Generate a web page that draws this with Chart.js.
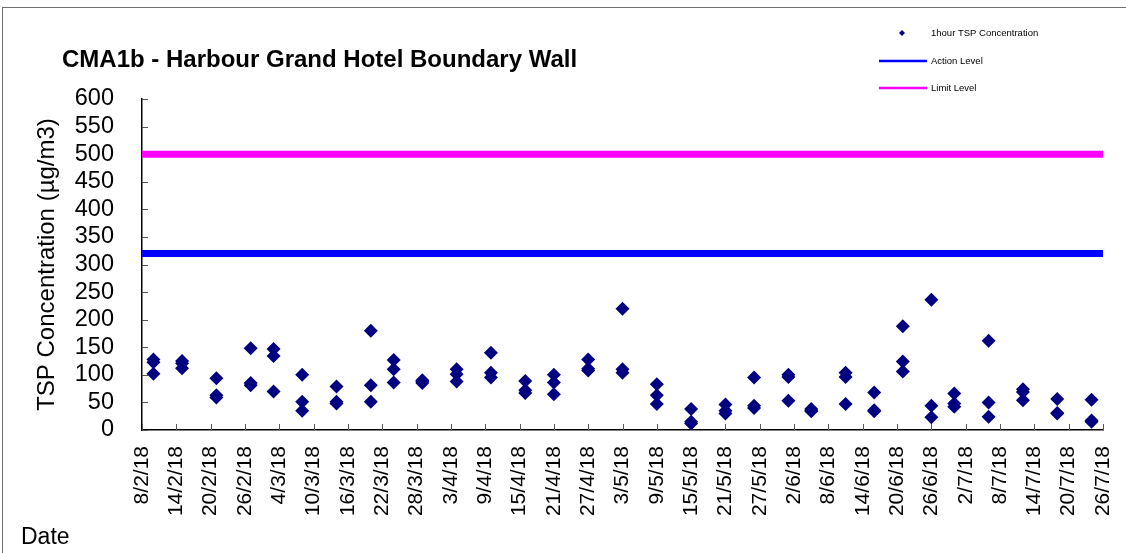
<!DOCTYPE html>
<html>
<head>
<meta charset="utf-8">
<title>CMA1b - Harbour Grand Hotel Boundary Wall</title>
<script src="https://cdn.jsdelivr.net/npm/chart.js"></script>
<style>
  html, body { margin: 0; padding: 0; background: #fff; }
  #wrap { position: relative; width: 1126px; height: 553px; }
</style>
</head>
<body>
<div id="wrap"><canvas id="tspChart" width="1126" height="553"></canvas></div>
<script>
// --- data ---
const sampleDates = ['10/2/18', '15/2/18', '21/2/18', '27/2/18', '3/3/18', '8/3/18', '14/3/18', '20/3/18',
    '24/3/18', '29/3/18', '4/4/18', '10/4/18', '16/4/18', '21/4/18', '27/4/18', '3/5/18', '9/5/18',
    '15/5/18', '21/5/18', '26/5/18', '1/6/18', '5/6/18', '11/6/18', '16/6/18', '21/6/18', '26/6/18',
    '30/6/18', '6/7/18', '12/7/18', '18/7/18', '24/7/18'];
// three 1-hour samples per monitoring day
const tspReading1 = [128, 125, 94, 148, 147, 100, 79, 180, 127, 90, 110, 140, 89, 100, 128, 220, 83,
    38, 46, 95, 100, 38, 104, 68, 188, 236, 66, 162, 74, 56, 55];
const tspReading2 = [123, 121, 63, 85, 134, 51, 51, 81, 110, 88, 101, 104, 72, 86, 111, 110, 63,
    15, 35, 44, 96, 36, 96, 36, 124, 44, 48, 50, 69, 31, 17];
const tspReading3 = [102, 112, 59, 81, 70, 35, 48, 51, 86, 85, 88, 95, 67, 65, 108, 104, 47,
    12, 30, 40, 53, 34, 47, 34, 106, 23, 42, 24, 54, 30, 15];

const actionLevel = 320;
const limitLevel = 500;

const axisStart = '8/2/18';
const axisEnd = '26/7/18';
const tickStepDays = 6;
const yTicks = { min: 0, max: 600, step: 50 };

const FONT = 'Liberation Sans, Arial, sans-serif';

// d/m/yy -> days since axis start
function toUtc(s) {
    const p = s.split('/').map(Number);
    return Date.UTC(2000 + p[2], p[1] - 1, p[0]);
}
const dayMs = 86400000;
function dayIndex(s) { return Math.round((toUtc(s) - toUtc(axisStart)) / dayMs); }
function dayLabel(d) {
    const dt = new Date(toUtc(axisStart) + d * dayMs);
    return dt.getUTCDate() + '/' + (dt.getUTCMonth() + 1) + '/' + String(dt.getUTCFullYear()).slice(2);
}
const lastDay = dayIndex(axisEnd);

const tspPoints = [];
sampleDates.forEach((d, i) => {
    [tspReading1[i], tspReading2[i], tspReading3[i]].forEach(v => {
        tspPoints.push({ x: dayIndex(d), y: v });
    });
});

// inward tick marks, titles, legend and outer frame
const decorPlugin = {
    id: 'decor',
    beforeDraw(chart) {
        const ctx = chart.ctx;
        ctx.save();
        ctx.strokeStyle = '#6e6e6e';
        ctx.lineWidth = 1;
        ctx.strokeRect(2.5, 7.5, 1200, 700);
        ctx.restore();
    },
    beforeDatasetsDraw(chart) {
        const { ctx, chartArea, scales } = chart;
        ctx.save();
        ctx.strokeStyle = '#555';
        ctx.lineWidth = 1;
        ctx.beginPath();
        scales.y.ticks.forEach(t => {
            const y = Math.round(scales.y.getPixelForValue(t.value)) + 0.5;
            ctx.moveTo(chartArea.left, y);
            ctx.lineTo(chartArea.left + 6, y);
        });
        scales.x.ticks.forEach(t => {
            const x = Math.round(scales.x.getPixelForValue(t.value)) + 0.5;
            ctx.moveTo(x, chartArea.bottom);
            ctx.lineTo(x, chartArea.bottom - 6);
        });
        ctx.stroke();
        ctx.restore();
    },
    afterDraw(chart) {
        const ctx = chart.ctx;
        ctx.save();
        ctx.fillStyle = '#000';
        ctx.textBaseline = 'middle';
        ctx.textAlign = 'left';

        ctx.font = 'bold 24px ' + FONT;
        ctx.fillText('CMA1b - Harbour Grand Hotel Boundary Wall', 62, 60);

        ctx.font = '23px ' + FONT;
        ctx.fillText('Date', 21, 538);

        // legend
        ctx.font = '9.5px ' + FONT;
        ctx.fillText('1hour TSP Concentration', 931, 33);
        ctx.fillText('Action Level', 931, 61);
        ctx.fillText('Limit Level', 931, 88);

        ctx.fillStyle = '#000080';
        ctx.beginPath();
        ctx.moveTo(902, 30); ctx.lineTo(905, 33); ctx.lineTo(902, 36); ctx.lineTo(899, 33);
        ctx.closePath();
        ctx.fill();

        ctx.lineWidth = 2.5;
        ctx.strokeStyle = '#0000ff';
        ctx.beginPath(); ctx.moveTo(879, 61); ctx.lineTo(927, 61); ctx.stroke();
        ctx.strokeStyle = '#ff00ff';
        ctx.beginPath(); ctx.moveTo(879, 88); ctx.lineTo(927, 88); ctx.stroke();
        ctx.restore();
    }
};

new Chart(document.getElementById('tspChart'), {
    type: 'scatter',
    data: {
        datasets: [
            {
                label: 'Limit Level',
                data: [{ x: 0, y: limitLevel }, { x: lastDay, y: limitLevel }],
                showLine: true,
                borderColor: '#ff00ff',
                borderWidth: 7,
                pointRadius: 0
            },
            {
                label: 'Action Level',
                data: [{ x: 0, y: actionLevel }, { x: lastDay, y: actionLevel }],
                showLine: true,
                borderColor: '#0000ff',
                borderWidth: 7,
                pointRadius: 0
            },
            {
                label: '1hour TSP Concentration',
                data: tspPoints,
                pointStyle: 'rectRot',
                pointRadius: 7,
                backgroundColor: '#000080',
                borderColor: '#000080',
                borderWidth: 0
            }
        ]
    },
    options: {
        responsive: false,
        animation: false,
        layout: { padding: { left: 20, top: 99, right: 23, bottom: 0 } },
        plugins: {
            legend: { display: false },
            tooltip: { enabled: false }
        },
        scales: {
            x: {
                type: 'linear',
                min: 0,
                max: lastDay,
                afterFit: s => {
                    s.height = 123;
                    // rotated end labels may hang past the plot edge
                    s.paddingLeft = 0;
                    s.paddingRight = 0;
                },
                grid: { drawOnChartArea: false, drawTicks: false },
                border: { display: true, color: '#000', width: 1.5 },
                ticks: {
                    stepSize: tickStepDays,
                    autoSkip: false,
                    minRotation: 90,
                    maxRotation: 90,
                    padding: 16,
                    color: '#000',
                    font: { family: FONT, size: 21 },
                    callback: v => dayLabel(v)
                }
            },
            y: {
                min: yTicks.min,
                max: yTicks.max,
                afterFit: s => { s.width = 122; },
                grid: { drawOnChartArea: false, drawTicks: false },
                border: { display: true, color: '#000', width: 1.5 },
                ticks: {
                    stepSize: yTicks.step,
                    autoSkip: false,
                    padding: 28,
                    color: '#000',
                    font: { family: FONT, size: 23.5 }
                },
                title: {
                    display: true,
                    text: 'TSP Concentration (µg/m3)',
                    color: '#000',
                    font: { family: FONT, size: 24 },
                    padding: { top: 13, bottom: 0 }
                }
            }
        }
    },
    plugins: [decorPlugin]
});
</script>
</body>
</html>
